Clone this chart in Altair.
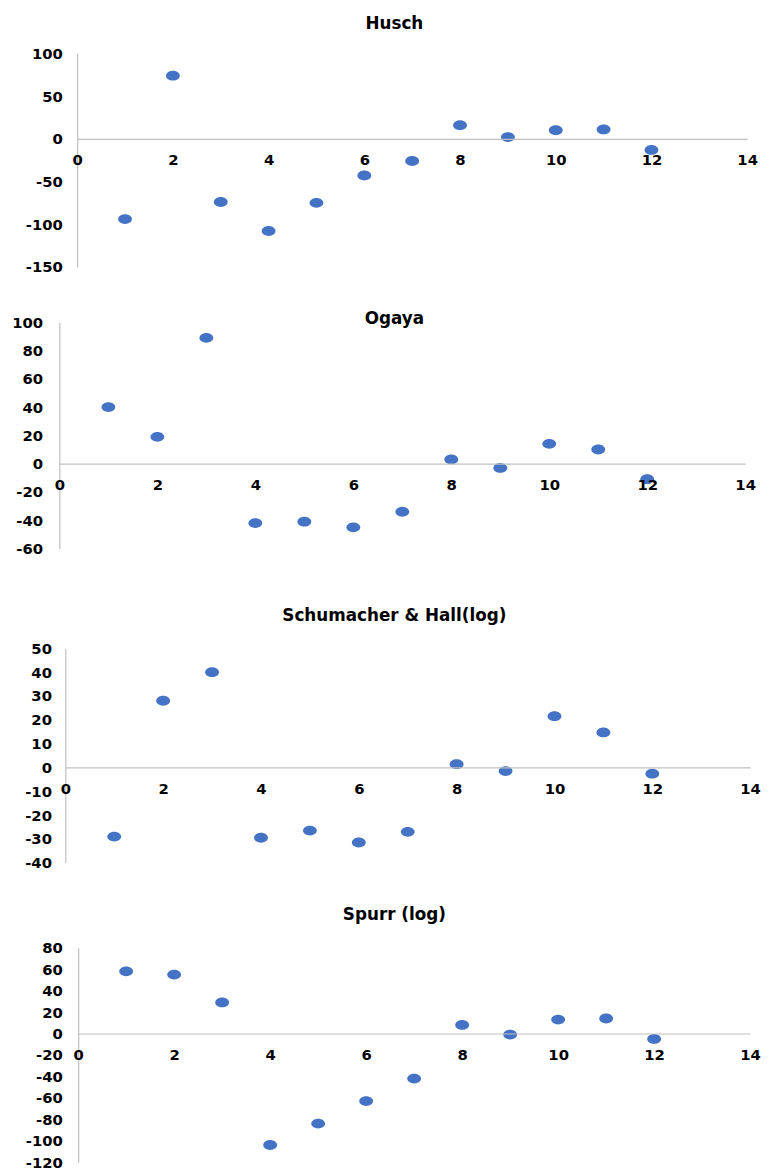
import altair as alt
import pandas as pd

# ---- data ----
x_vals = [1, 2, 3, 4, 5, 6, 7, 8, 9, 10, 11, 12]
husch = [-94, 74, -74, -108, -75, -43, -26, 16, 2, 10, 11, -13]
ogaya = [40, 19, 89, -42, -41, -45, -34, 3, -3, 14, 10, -11]
schumacher = [-29, 28, 40, -29.5, -26.5, -31.5, -27, 1.4, -1.5, 21.5, 14.7, -2.6]
spurr = [58, 55, 29, -104, -84, -63, -42, 8, -1, 13, 14, -5]

titles = ["Husch", "Ogaya", "Schumacher & Hall(log)", "Spurr (log)"]
x_ticks = [0, 2, 4, 6, 8, 10, 12, 14]
y_ticks_husch = [-150, -100, -50, 0, 50, 100]
y_ticks_ogaya = [-60, -40, -20, 0, 20, 40, 60, 80, 100]
y_ticks_schumacher = [-40, -30, -20, -10, 0, 10, 20, 30, 40, 50]
y_ticks_spurr = [-120, -100, -80, -60, -40, -20, 0, 20, 40, 60, 80]

FONT = "DejaVu Sans"
BLUE = "#4472C4"
AXIS_GRAY = "#bfbfbf"
# ellipse symbol (points are slightly wider than tall in the reference)
ELLIPSE = ("M1,0 C1,0.392 0.552,0.71 0,0.71 C-0.552,0.71 -1,0.392 -1,0 "
           "C-1,-0.392 -0.552,-0.71 0,-0.71 C0.552,-0.71 1,-0.392 1,0 Z")
TITLE_CENTER = 399  # page x of the title centres in the reference
HYPHEN_LABEL = "replace(datum.label, '\u2212', '-')"


def spacer():
    # invisible 1px cell used to shift each panel horizontally
    return alt.Chart(pd.DataFrame({"s": [0]})).mark_point(
        size=0, opacity=0
    ).encode(
        x=alt.X("s:Q", axis=None), y=alt.Y("s:Q", axis=None)
    ).properties(width=1, height=1)


def panel(values, title, yticks, width, height, extent, lab_pad, title_off):
    df = pd.DataFrame({"x": x_vals, "y": values})
    lo, hi = yticks[0], yticks[-1]
    zero_from_bottom = height * (0 - lo) / (hi - lo)
    origin = 9 + extent
    dx = TITLE_CENTER - (origin + width / 2)
    return alt.Chart(df).mark_point(
        shape=ELLIPSE, filled=True, size=196, color=BLUE, opacity=1
    ).encode(
        x=alt.X("x:Q",
                scale=alt.Scale(domain=[0, 14], nice=False, zero=False),
                axis=alt.Axis(values=x_ticks, offset=-zero_from_bottom,
                              title=None, grid=False, ticks=False, tickSize=0,
                              labelPadding=14, labelFlush=False, zindex=1)),
        y=alt.Y("y:Q",
                scale=alt.Scale(domain=[lo, hi], nice=False, zero=False),
                axis=alt.Axis(values=yticks, title=None, grid=False,
                              ticks=False, tickSize=0, labelPadding=lab_pad,
                              labelExpr=HYPHEN_LABEL,
                              minExtent=extent, maxExtent=extent)),
    ).properties(
        width=width, height=height,
        title=alt.TitleParams(title, offset=title_off, anchor="middle",
                              dx=dx, font=FONT, fontSize=17,
                              fontWeight="bold", color="#000000"),
    )


p1 = panel(husch, titles[0], y_ticks_husch, 678, 216, 69, 15, 14)
p2 = panel(ogaya, titles[1], y_ticks_ogaya, 694, 229, 51, 17, -13)
p3 = panel(schumacher, titles[2], y_ticks_schumacher, 693, 217, 57, 14, 17)
p4 = panel(spurr, titles[3], y_ticks_spurr, 680, 217, 70, 16, 17)

rows = [alt.hconcat(spacer(), p, spacing=0) for p in (p1, p2, p3, p4)]
top = alt.vconcat(rows[0], rows[1], spacing=36)
bottom = alt.vconcat(rows[2], rows[3], spacing=36)

chart = alt.vconcat(top, bottom, spacing=51).properties(
    padding={"left": 0, "top": 0, "right": 0, "bottom": 0}
).configure_view(stroke=None).configure_axis(
    labelFont=FONT, labelFontSize=15, labelFontWeight="bold",
    labelColor="#000000", domainColor=AXIS_GRAY, domainWidth=1.2,
)

chart.save("out.html", embed_options={"renderer": "svg", "actions": False})
